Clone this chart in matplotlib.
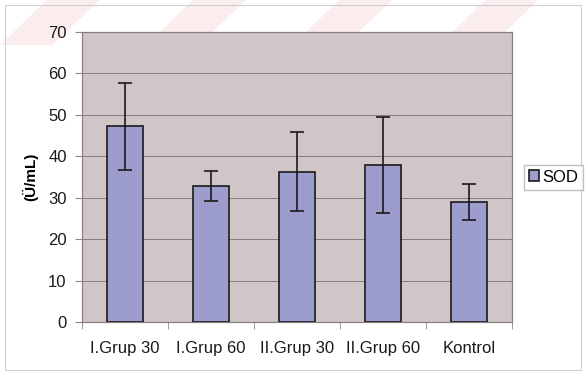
import matplotlib.pyplot as plt
import numpy as np
from matplotlib.patches import Rectangle, Polygon

plt.rcParams["font.family"] = ["Liberation Sans", "DejaVu Sans"]

groups = ["I.Grup 30", "I.Grup 60", "II.Grup 30", "II.Grup 60", "Kontrol"]
sod_mean = [47.3, 32.8, 36.3, 38.0, 29.0]
sod_err = [10.5, 3.7, 9.6, 11.6, 4.3]

fig = plt.figure(figsize=(5.85, 3.75), dpi=100)
fig.patch.set_facecolor("white")

# faint diagonal watermark stripes at the top
for x0 in np.arange(0.0, 1.3, 0.25):
    fig.patches.append(Polygon(
        [[x0, 0.88], [x0 + 0.09, 0.88], [x0 + 0.17, 1.0], [x0 + 0.08, 1.0]],
        closed=True, transform=fig.transFigure, facecolor="#fbecee",
        edgecolor="none", zorder=-2))

# outer chart border
fig.patches.append(Rectangle((0.009, 0.013), 0.985, 0.975,
                             transform=fig.transFigure, fill=False,
                             edgecolor="#d0d0d0", linewidth=0.8, zorder=-1))

ax = fig.add_axes([82 / 585, 1 - 322 / 375, 430 / 585, 290 / 375])
ax.set_facecolor("#d1c6c7")

x = np.arange(len(groups))
ax.bar(x, sod_mean, width=0.42, color="#9c9dcc", edgecolor="#1a1a1a",
       linewidth=1.2, label="SOD", zorder=3)
ax.errorbar(x, sod_mean, yerr=sod_err, fmt="none", ecolor="#1a1a1a",
            elinewidth=1.2, capsize=5, capthick=1.2, zorder=4)

ax.set_xlim(-0.5, len(groups) - 0.5)
ax.set_ylim(0, 70)
ax.set_yticks(range(0, 71, 10))
ax.set_xticks(np.arange(-0.5, len(groups), 1), minor=True)
ax.set_xticks(x)
ax.set_xticklabels(groups, fontsize=12, color="#1a1a1a")
ax.tick_params(axis="x", which="major", length=0, pad=14)
ax.tick_params(axis="x", which="minor", length=5, color="#8a8a8a")
ax.tick_params(axis="y", length=5, color="#8a8a8a", labelsize=12,
               labelcolor="#1a1a1a", pad=6)
ax.yaxis.grid(True, color="#857a7c", linewidth=0.7, zorder=0)
ax.set_axisbelow(True)
for side in ["top", "right", "bottom", "left"]:
    ax.spines[side].set_color("#8a8080")
    ax.spines[side].set_linewidth(0.9)

ax.set_ylabel("(Ü/mL)", fontsize=11, fontweight="bold", labelpad=7)

ax.legend(loc="center left", bbox_to_anchor=(1.02, 0.5), fontsize=12,
          frameon=True, fancybox=False, edgecolor="#b0b0b0",
          handlelength=0.6, handleheight=0.6, handletextpad=0.2,
          borderpad=0.3, borderaxespad=0.2)

fig.savefig("out.png", dpi=100)
